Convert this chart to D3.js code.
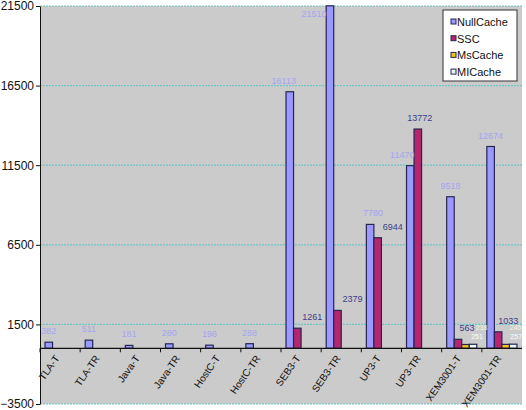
<!DOCTYPE html>
<html>
<head>
<meta charset="utf-8">
<script src="https://cdn.jsdelivr.net/npm/d3@7"></script>
<style>
  body { margin: 0; background: #fff; }
  svg { font-family: "Liberation Sans", Arial, sans-serif; }
</style>
</head>
<body>
<svg width="526" height="410"></svg>
<script>
// data
const categories = ['TLA-T', 'TLA-TR', 'Java-T', 'Java-TR', 'HostC-T', 'HostC-TR',
    'SEB3-T', 'SEB3-TR', 'UP3-T', 'UP3-TR', 'XEM3001-T', 'XEM3001-TR'];
const seriesNames = ['NullCache', 'SSC', 'MsCache', 'MICache'];
const nullCache = [382, 511, 181, 280, 196, 288, 16113, 21510, 7780, 11470, 9518, 12674];
const ssc = [null, null, null, null, null, null, 1261, 2379, 6944, 13772, 563, 1033];
const msCache = [null, null, null, null, null, null, null, null, null, null, 238, 245];
const miCache = [null, null, null, null, null, null, null, null, null, null, 251, 257];
const yTicks = [-3500, 1500, 6500, 11500, 16500, 21500];

const seriesValues = [nullCache, ssc, msCache, miCache];
const fills = ['#9999ff', '#b5266e', '#f0c419', '#eaf8f8'];
const labelColors = ['#a4a4f4', '#3d3d8a', '#f2f2dc', '#f6ffff'];

// label placement (px)
const labelDx = [0, 15, 0, 0];
const nudge = {
    'SEB3-T|NullCache': [-6, 0],
    'SEB3-TR|NullCache': [-16, 0],
    'UP3-T|NullCache': [3, 0],
    'UP3-TR|NullCache': [-8, 0],
    'UP3-TR|SSC': [-13, 0],
    'XEM3001-T|SSC': [-6, 0],
    'XEM3001-TR|SSC': [-5, 0],
    'XEM3001-T|MsCache': [16, -6],
    'XEM3001-T|MICache': [4, 3],
    'XEM3001-TR|MsCache': [10, -6],
    'XEM3001-TR|MICache': [3, 3]
};

const svg = d3.select('svg');
const mLeft = 40, mRight = 522, mTop = 6, mBottom = 404;

const y = d3.scaleLinear().domain([-3500, 21500]).range([mBottom, mTop]);
const x0 = d3.scaleBand().domain(categories).range([mLeft, mRight])
    .paddingInner(0.25).paddingOuter(0.125);
const x1 = d3.scaleBand().domain(seriesNames).range([0, x0.bandwidth()]);

// plot background
svg.append('rect')
    .attr('x', mLeft).attr('y', mTop)
    .attr('width', mRight - mLeft).attr('height', mBottom - mTop)
    .style('fill', '#cbcbcb');

// gridlines
svg.append('g').selectAll('line').data(yTicks).enter().append('line')
    .attr('x1', mLeft).attr('x2', mRight)
    .attr('y1', d => y(d)).attr('y2', d => y(d))
    .style('stroke', '#6fc4c4').style('stroke-width', 1.2)
    .style('stroke-dasharray', '2,1');

// y axis
const yAxis = svg.append('g').attr('transform', `translate(${mLeft},0)`)
    .call(d3.axisLeft(y).tickValues(yTicks).tickSize(4).tickSizeOuter(0).tickFormat(d3.format('d')));
yAxis.select('.domain').style('stroke', '#111');
yAxis.selectAll('line').style('stroke', '#111');
yAxis.selectAll('text').style('font-size', '12px').style('fill', '#111')
    .attr('x', -6);

// bars
const rows = [];
categories.forEach((c, i) => {
    seriesNames.forEach((s, j) => {
        const v = seriesValues[j][i];
        if (v != null) rows.push({cat: c, series: s, si: j, value: v});
    });
});

svg.append('g').selectAll('rect').data(rows).enter().append('rect')
    .attr('x', d => x0(d.cat) + x1(d.series))
    .attr('y', d => y(d.value))
    .attr('width', x1.bandwidth())
    .attr('height', d => y(0) - y(d.value))
    .style('fill', d => fills[d.si])
    .style('stroke', '#262650').style('stroke-width', 1.2);

// category axis
const xAxis = svg.append('g').attr('transform', `translate(0,${y(0)})`);
xAxis.append('line').attr('x1', mLeft).attr('x2', mRight)
    .style('stroke', '#111').style('stroke-width', 1.2);
xAxis.selectAll('.tk').data(categories).enter().append('line')
    .attr('class', 'tk')
    .attr('x1', d => x0(d) - x0.step() * 0.125).attr('x2', d => x0(d) - x0.step() * 0.125)
    .attr('y1', 0).attr('y2', 4)
    .style('stroke', '#111');
xAxis.selectAll('text').data(categories).enter().append('text')
    .attr('transform', d => `translate(${x0(d) + x0.bandwidth() / 2 - 3},8) rotate(-55)`)
    .attr('text-anchor', 'end')
    .attr('dy', '0.35em')
    .style('font-size', '10px').style('fill', '#111')
    .text(d => d);

// value labels
svg.append('g').selectAll('text').data(rows).enter().append('text')
    .attr('x', d => x0(d.cat) + x1(d.series) + x1.bandwidth() / 2 + labelDx[d.si]
        + (nudge[d.cat + '|' + d.series] || [0, 0])[0])
    .attr('y', d => Math.max(y(d.value) - 8, mTop + 11)
        + (nudge[d.cat + '|' + d.series] || [0, 0])[1])
    .attr('text-anchor', 'middle')
    .style('font-size', d => d.si > 1 ? '7px' : '9px')
    .style('fill', d => labelColors[d.si])
    .text(d => d.value);

// legend
const lg = svg.append('g').attr('transform', 'translate(443,10)');
lg.append('rect').attr('width', 74).attr('height', 71)
    .style('fill', '#fff').style('stroke', '#333').style('stroke-width', 1);
const item = lg.selectAll('.legend').data(seriesNames).enter().append('g')
    .attr('class', 'legend')
    .attr('transform', (d, i) => `translate(8,${12 + i * 16.7})`);
item.append('rect').attr('x', 0).attr('y', -3).attr('width', 5).attr('height', 5)
    .style('fill', (d, i) => fills[i]).style('stroke', '#262650').style('stroke-width', 1);
item.append('text').attr('x', 6).attr('dy', '0.35em')
    .style('font-size', '11px').style('fill', '#111')
    .text(d => d);
</script>
</body>
</html>
